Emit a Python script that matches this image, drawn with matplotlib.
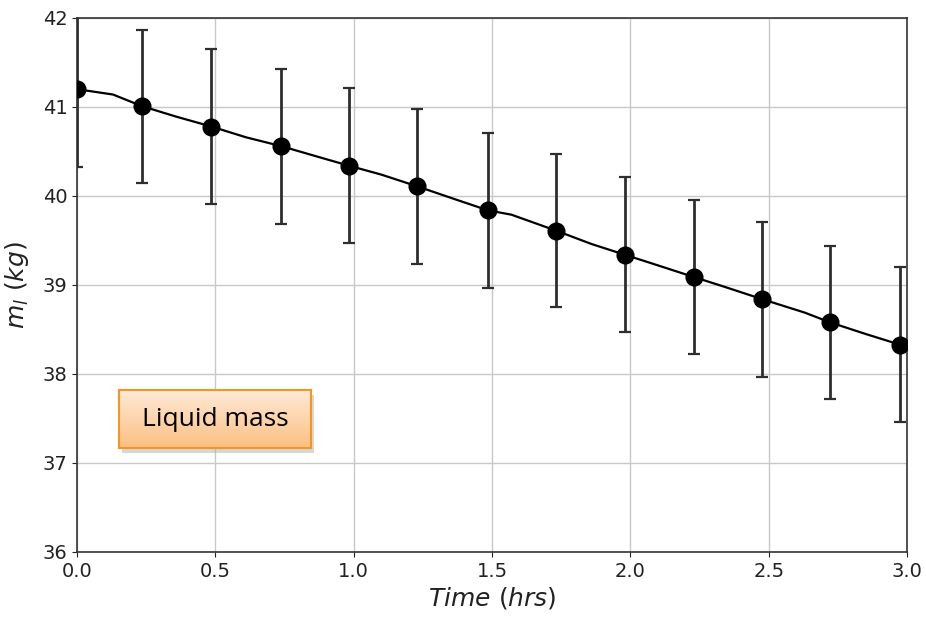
import numpy as np
import matplotlib
matplotlib.use("Agg")
import matplotlib.pyplot as plt
from matplotlib.patches import Rectangle
from matplotlib.colors import LinearSegmentedColormap

# marker data
t_pts = [0.0, 0.234, 0.486, 0.738, 0.983, 1.228, 1.484, 1.732, 1.98, 2.229, 2.477, 2.722, 2.974]
m_pts = [41.20, 41.01, 40.78, 40.56, 40.34, 40.11, 39.84, 39.61, 39.34, 39.09, 38.84, 38.58, 38.33]
m_err = [0.87, 0.86, 0.87, 0.87, 0.87, 0.87, 0.87, 0.86, 0.87, 0.86, 0.87, 0.86, 0.87]

# model line
t_line = [0.0, 0.13, 0.234, 0.36, 0.486, 0.61, 0.738, 0.86, 0.983, 1.10, 1.228, 1.36, 1.484,
          1.57, 1.732, 1.86, 1.98, 2.10, 2.229, 2.33, 2.477, 2.63, 2.722, 2.85, 2.974]
m_line = [41.20, 41.14, 41.01, 40.89, 40.78, 40.66, 40.56, 40.45, 40.34, 40.24, 40.11, 39.97, 39.84,
          39.79, 39.61, 39.46, 39.34, 39.22, 39.09, 38.99, 38.84, 38.69, 38.58, 38.45, 38.33]

xticks = [0.0, 0.5, 1.0, 1.5, 2.0, 2.5, 3.0]
yticks = [36, 37, 38, 39, 40, 41, 42]
label_text = "Liquid mass"

fig = plt.figure(figsize=(9.26, 6.18), dpi=100)
ax = fig.add_axes([0.0832, 0.1068, 0.8963, 0.8641])

ax.plot(t_line, m_line, color='black', lw=1.6, zorder=3)
ax.errorbar(t_pts, m_pts, yerr=m_err, fmt='none',
            ecolor='#2e2e2e', elinewidth=2, capsize=4.5, capthick=1.6, zorder=4)
sc = ax.scatter(t_pts, m_pts, s=170, color='black', zorder=5, linewidths=0)
sc.set_clip_path(ax.patch)

ax.set_xlim(0, 3.0)
ax.set_ylim(36, 42)
ax.set_xticks(xticks)
ax.set_yticks(yticks)
ax.tick_params(labelsize=14, colors='#222222')
ax.grid(True, color='#c8c8c8', lw=1)
ax.set_axisbelow(True)
for s in ax.spines.values():
    s.set_color('#333333')
    s.set_linewidth(1.2)
ax.set_xlabel('$Time\\ (hrs)$', fontsize=18, color='#222222', labelpad=3)
ax.set_ylabel('$m_l\\ (kg)$', fontsize=18, color='#222222', labelpad=8)

# label box with gradient and shadow
bx, by, bw, bh = 0.1285, 0.275, 0.2073, 0.0939
shadow = Rectangle((bx + 0.003, by - 0.008), bw, bh, transform=fig.transFigure,
                   facecolor='#b0b0b0', edgecolor='none', alpha=0.5, zorder=5)
fig.patches.append(shadow)
bax = fig.add_axes([bx, by, bw, bh], zorder=6)
grad = np.linspace(0, 1, 100).reshape(-1, 1)
cmap = LinearSegmentedColormap.from_list('og', ['#FEEAD8', '#FBC082'])
bax.imshow(grad, aspect='auto', cmap=cmap, extent=[0, 1, 0, 1], origin='upper')
bax.set_xticks([])
bax.set_yticks([])
for s in bax.spines.values():
    s.set_color('#F7961E')
    s.set_linewidth(1.5)
bax.text(0.5, 0.5, label_text, ha='center', va='center', fontsize=19,
         family='Open Sans', color='black', transform=bax.transAxes)

fig.savefig('out.png', dpi=100)
